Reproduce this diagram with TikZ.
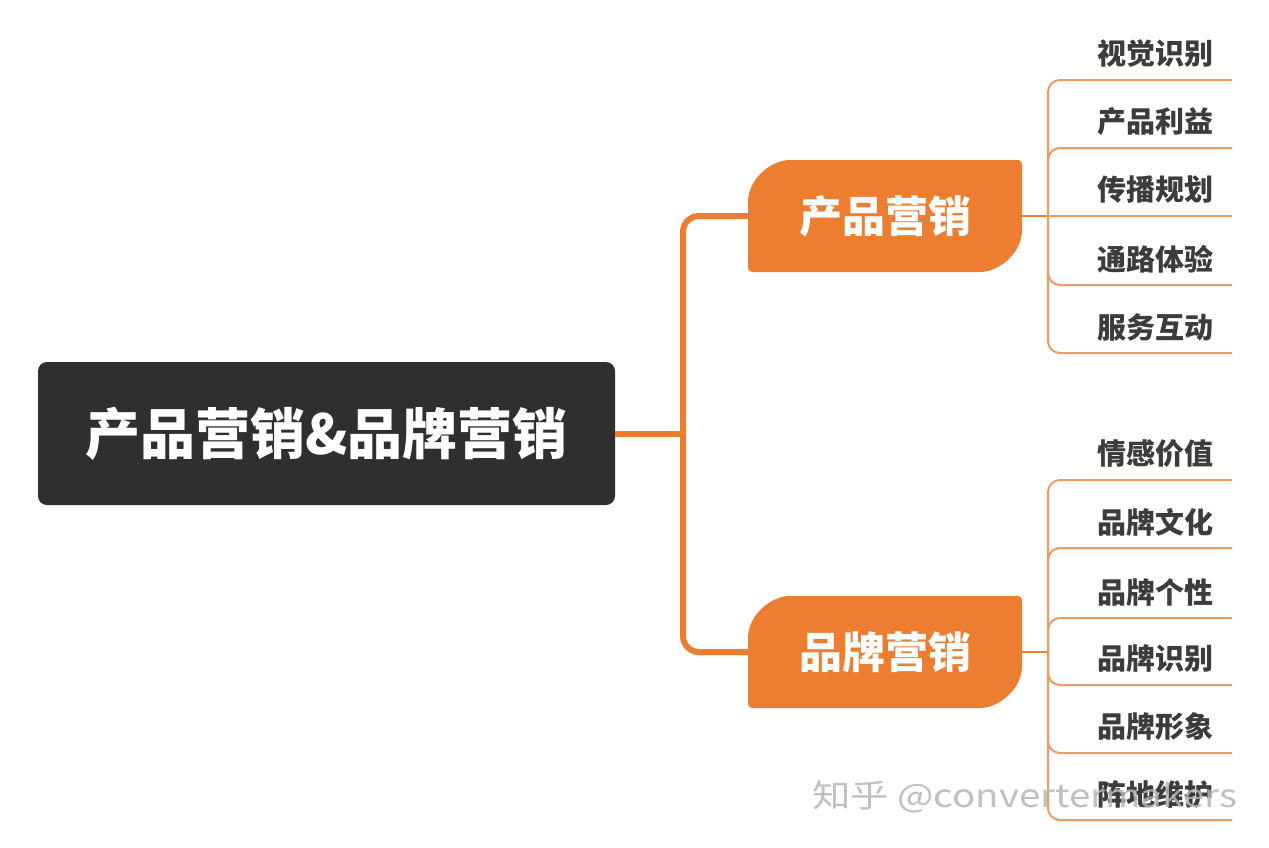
\documentclass[tikz,border=0pt]{standalone}
\usepackage{fontspec}
\setmainfont{Noto Sans CJK SC}
\definecolor{orng}{HTML}{ED7D31}
\definecolor{orngl}{HTML}{EE9B62}
\definecolor{darkbox}{HTML}{2F2F2F}
\definecolor{leaftxt}{HTML}{3C3C3C}
\definecolor{wmgray}{HTML}{B5B5B5}
\tikzset{
  rootbox/.style={fill=darkbox, rounded corners=9pt, text=white,
    font=\fontsize{55}{60}\selectfont\bfseries,
    minimum width=577pt, minimum height=143pt, inner sep=0pt},
  midtext/.style={text=white, font=\fontsize{43}{48}\selectfont\bfseries,
    minimum width=274pt, minimum height=112pt, inner sep=0pt},
  leaftext/.style={text=leaftxt, font=\fontsize{29}{32}\selectfont\bfseries, inner sep=0pt},
  mainline/.style={draw=orng, line width=6pt, rounded corners=16pt},
  subline/.style={draw=orng, line width=2pt},
  leafline/.style={draw=orngl, line width=2pt, rounded corners=12pt},
  watermark/.style={text=wmgray, font=\fontsize{32}{36}\selectfont, inner sep=0pt, text opacity=0.85},
}
% tab shape: top-left and bottom-right strongly rounded
\newcommand\tabshape[1]{%
  \fill[orng] (748,{#1+108}) -- (748,{#1+42})
    .. controls (748,{#1+19}) and (771,{#1}) .. (790,{#1})
    -- (1018,{#1}) .. controls (1020,{#1}) and (1022,{#1+2}) .. (1022,{#1+4})
    -- (1022,{#1+70}) .. controls (1022,{#1+93}) and (999,{#1+112}) .. (980,{#1+112})
    -- (752,{#1+112}) .. controls (750,{#1+112}) and (748,{#1+110}) .. (748,{#1+108}) -- cycle;}
\begin{document}
\begin{tikzpicture}[x=1pt,y=-1pt]
\useasboundingbox (0,0) rectangle (1269,847);
\fill[white] (0,0) rectangle (1269,847);

% central node
\node[rootbox] (root) at (326.5,433.5) {产品营销\&品牌营销};

% orange tab shapes and their text nodes
\tabshape{160}
\tabshape{596}
\node[midtext] (pm) at (885,216) {产品营销};
\node[midtext] (bm) at (885,652) {品牌营销};

% main connectors
\coordinate (hub) at (683,433.5);
\draw[mainline] (root.east) -- (hub);
\draw[mainline] (hub) |- (pm.west);
\draw[mainline] (hub) |- (bm.west);

% hubs of leaf groups
\coordinate (ht) at (1048,216);
\coordinate (hb) at (1048,652);
\draw[subline] (pm.east) -- (ht);
\draw[subline] (bm.east) -- (hb);

% top group leaves
\foreach \n/\y/\t in {1/80/视觉识别, 2/148/产品利益, 3/216/传播规划, 4/285/通路体验, 5/353/服务互动}{
  \node[leaftext] (t\n) at (1155,{\y-26}) {\t};
  \coordinate (ut\n) at (1232,\y);
}
\foreach \n in {1,2,4,5}{ \draw[leafline] (ht) |- (ut\n); }
\draw[leafline] (ht) -- (ut3);

% bottom group leaves
\foreach \n/\y/\t in {1/480/情感价值, 2/548/品牌文化, 3/618/品牌个性, 4/685/品牌识别, 5/753/品牌形象, 6/820/阵地维护}{
  \node[leaftext] (b\n) at (1155,{\y-26}) {\t};
  \coordinate (ub\n) at (1232,\y);
  \draw[leafline] (hb) |- (ub\n);
}

% watermark
\node[watermark, anchor=west] (wm) at (812,797) {\scalebox{1.2}[1]{知乎 @convertermakers}};
\end{tikzpicture}
\end{document}
